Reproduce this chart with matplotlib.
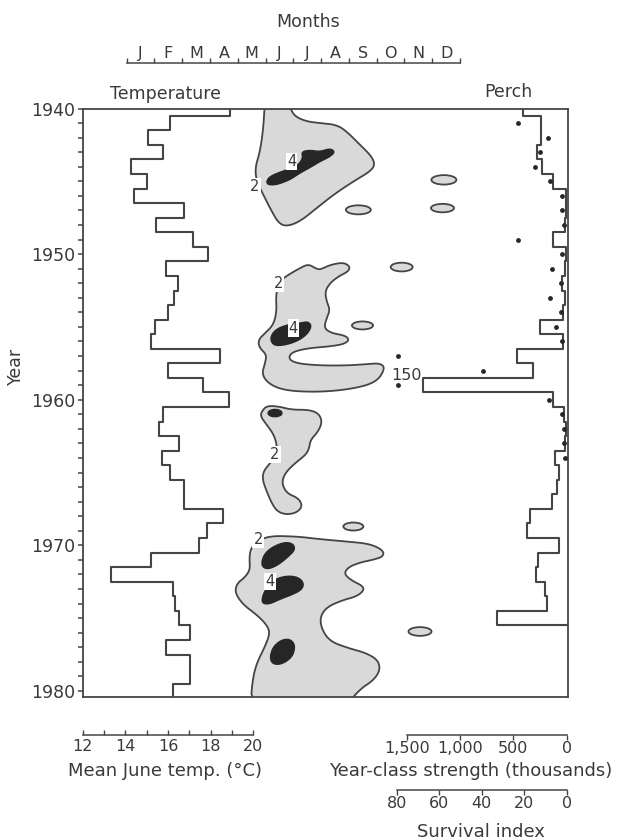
import numpy as np
import matplotlib.pyplot as plt
from matplotlib.patches import Polygon, Ellipse

plt.rcParams['font.family'] = ['DejaVu Sans']

# ---------------- data ----------------
years = np.arange(1940, 1981)
june_temp = [18.92, 16.10, 15.05, 15.78, 14.27, 15.00, 14.42, 16.77, 15.43, 17.16,
             17.87, 15.91, 16.49, 16.29, 16.02, 15.39, 15.19, 18.45, 16.02, 17.62,
             18.84, 15.78, 15.58, 16.52, 15.74, 16.10, 16.77, 16.77, 18.60, 17.82,
             17.46, 15.19, 13.31, 16.25, 16.33, 16.52, 17.04, 15.91, 17.04, 17.04,
             16.22]

perch_years = np.arange(1940, 1976)
year_class = [407, 241, 241, 281, 234, 125, 8, 5, 12, 131,
              10, 20, 40, 15, 35, 250, 31, 469, 313, 1344,
              131, 25, 10, 18, 110, 69, 88, 141, 344, 369,
              69, 266, 291, 203, 181, 650]

surv_years = np.arange(1941, 1965)
survival = [23.1, 8.6, 12.6, 14.9, 7.9, 2.1, 2.4, 1.1, 22.8,
            2.1, 7.1, 2.8, 7.9, 2.8, 5.2, 2.1, 79.2, 39.5, 150,
            8.3, 2.4, 1.1, 1.2, 0.8]

months = ['J', 'F', 'M', 'A', 'M', 'J', 'J', 'A', 'S', 'O', 'N', 'D']

# contour outlines, (month, year); month 0 = 1 January
blob_a = [(4.98, 1939.3), (4.92, 1941.35), (4.80, 1942.95), (4.62, 1944.10), (4.68, 1945.01),
          (4.92, 1945.93), (5.16, 1946.84), (5.46, 1947.87), (5.76, 1948.10), (6.24, 1947.76),
          (6.84, 1946.84), (7.44, 1945.93), (8.16, 1945.01), (8.76, 1944.33), (8.94, 1943.87),
          (8.82, 1943.29), (8.40, 1942.49), (7.92, 1941.58), (7.56, 1941.12), (6.96, 1941.00),
          (6.48, 1940.89), (6.06, 1940.55), (5.88, 1939.97), (5.85, 1939.3)]
blob_b = [(5.82, 1951.42), (6.24, 1950.96), (6.54, 1950.69), (6.78, 1950.96), (6.96, 1951.08),
          (7.32, 1950.74), (7.80, 1950.57), (8.04, 1950.85), (7.98, 1951.19), (7.62, 1951.54),
          (7.32, 1951.99), (7.14, 1952.57), (7.20, 1953.25), (7.32, 1953.83), (7.20, 1954.40),
          (7.10, 1955.08), (7.38, 1955.43), (7.86, 1955.59), (8.02, 1955.89), (7.82, 1956.18),
          (7.32, 1956.34), (6.54, 1956.46), (5.94, 1956.73), (5.82, 1957.19), (6.12, 1957.51),
          (6.96, 1957.65), (7.92, 1957.65), (8.64, 1957.56), (9.12, 1957.49), (9.31, 1957.83),
          (9.00, 1958.79), (8.16, 1959.25), (6.96, 1959.48), (5.76, 1959.39), (5.16, 1958.98),
          (4.86, 1958.29), (4.98, 1957.49), (5.04, 1956.92), (4.77, 1956.41), (4.74, 1955.89),
          (4.98, 1955.43), (5.28, 1954.86), (5.40, 1953.94), (5.37, 1952.80), (5.49, 1951.88)]
blob_c = [(4.86, 1960.81), (5.04, 1960.42), (5.46, 1960.46), (5.94, 1960.69), (6.54, 1960.69),
          (6.90, 1960.92), (7.04, 1961.49), (6.90, 1962.18), (6.62, 1962.75), (6.57, 1963.33),
          (6.45, 1963.78), (6.06, 1964.36), (5.70, 1965.04), (5.58, 1965.73), (5.76, 1966.42),
          (6.18, 1966.76), (6.33, 1967.29), (6.14, 1967.74), (5.76, 1967.90), (5.42, 1967.68),
          (5.22, 1967.10), (5.04, 1966.30), (4.89, 1965.50), (4.92, 1964.93), (5.16, 1964.36),
          (5.37, 1963.90), (5.42, 1963.21), (5.30, 1962.41), (5.04, 1961.72), (4.82, 1961.15)]
blob_d = [(4.56, 1969.97), (5.04, 1969.35), (6.12, 1969.39), (6.96, 1969.58), (7.92, 1969.74),
          (8.76, 1969.90), (9.24, 1970.35), (9.24, 1970.77), (8.88, 1970.99), (8.40, 1971.18),
          (7.98, 1971.50), (7.82, 1971.96), (8.10, 1972.42), (8.49, 1972.78), (8.54, 1973.10),
          (8.28, 1973.51), (7.74, 1973.79), (7.20, 1974.25), (6.96, 1974.93), (7.02, 1975.76),
          (7.32, 1976.60), (7.98, 1977.06), (8.64, 1977.41), (9.06, 1977.91), (9.12, 1978.60),
          (8.88, 1979.28), (8.40, 1979.88), (7.90, 1981.0), (4.46, 1981.0), (4.53, 1979.24),
          (4.68, 1978.09), (4.98, 1976.95), (5.16, 1976.03), (5.04, 1975.46), (4.68, 1974.77),
          (4.20, 1974.09), (3.90, 1973.28), (3.96, 1972.64), (4.26, 1972.19), (4.44, 1971.68),
          (4.42, 1970.99), (4.44, 1970.42)]

dark_a = [(5.03, 1945.01), (5.15, 1944.67), (5.57, 1944.33), (6.12, 1943.99), (6.35, 1943.42),
          (6.29, 1942.97), (6.59, 1942.86), (6.95, 1942.97), (7.32, 1942.74), (7.50, 1942.97),
          (7.32, 1943.31), (6.95, 1943.65), (6.66, 1943.99), (6.23, 1944.44), (5.87, 1944.90),
          (5.39, 1945.24), (5.09, 1945.24)]
dark_b = [(5.16, 1955.77), (5.34, 1955.20), (5.76, 1954.86), (6.24, 1954.74), (6.54, 1954.63),
          (6.66, 1954.97), (6.48, 1955.54), (6.12, 1956.00), (5.64, 1956.27), (5.28, 1956.27)]
dark_d1 = [(4.86, 1971.11), (4.98, 1970.54), (5.28, 1970.08), (5.70, 1969.78), (6.00, 1969.90),
           (6.06, 1970.31), (5.82, 1970.77), (5.46, 1971.34), (5.10, 1971.64), (4.89, 1971.50)]
dark_d2 = [(4.86, 1973.74), (4.98, 1973.06), (5.28, 1972.37), (5.76, 1972.09), (6.18, 1972.19),
           (6.38, 1972.60), (6.30, 1973.06), (5.94, 1973.40), (5.52, 1973.70), (5.16, 1974.02),
           (4.92, 1974.02)]
dark_d3 = [(5.16, 1977.63), (5.28, 1976.95), (5.58, 1976.49), (5.88, 1976.44), (6.06, 1976.83),
           (6.00, 1977.52), (5.76, 1977.98), (5.46, 1978.21), (5.22, 1978.09)]

# small closed "2" contours
ell_month = [11.42, 11.37, 8.34, 9.90, 8.49, 8.16, 10.56]
ell_year = [1944.90, 1946.84, 1946.96, 1950.89, 1954.90, 1968.71, 1975.92]
ell_w = [0.90, 0.83, 0.90, 0.79, 0.76, 0.72, 0.83]
ell_h = [0.65, 0.58, 0.62, 0.60, 0.55, 0.55, 0.60]
# small dark "4" patch in the 1960s
dark_c_month, dark_c_year, dark_c_w, dark_c_h = 5.34, 1960.92, 0.50, 0.50

lab_text = ['4', '2', '2', '4', '2', '2', '4']
lab_month = [5.94, 4.62, 5.46, 6.00, 5.34, 4.74, 5.16]
lab_year = [1943.64, 1945.36, 1952.00, 1955.08, 1963.78, 1969.62, 1972.49]

# ---------------- styling / layout ----------------
W, H = 627, 840
LINE = '#454545'
TXT = '#3a3a3a'
LIGHT = '#d9d9d9'
DARK = '#262626'
FS = 12.5

L, R, T, B = 82.7, 567.5, 108.5, 696.7
PX_PER_YEAR = 14.56
ylim = (1940 + (B - T) / PX_PER_YEAR, 1940)


def rect(x0, x1, y0, y1):
    return [x0 / W, 1 - y1 / H, (x1 - x0) / W, (y1 - y0) / H]


def xlim_from(v0, p0, v1, p1):
    k = (v1 - v0) / (p1 - p0)
    return v0 + (L - p0) * k, v0 + (R - p0) * k


def vsteps(yrs, vals):
    yy = np.repeat(np.asarray(yrs, float), 2) + np.tile([-0.5, 0.5], len(yrs))
    xx = np.repeat(np.asarray(vals, float), 2)
    return xx, yy


def chaikin(pts, n=3):
    p = np.asarray(pts, dtype=float)
    for _ in range(n):
        q = np.roll(p, -1, axis=0)
        out = np.empty((2 * len(p), 2))
        out[0::2] = 0.75 * p + 0.25 * q
        out[1::2] = 0.25 * p + 0.75 * q
        p = out
    return p


def overlay(xlim):
    ax = fig.add_axes(rect(L, R, T, B))
    ax.set_xlim(*xlim)
    ax.set_ylim(*ylim)
    ax.patch.set_visible(False)
    return ax


fig = plt.figure(figsize=(W / 100, H / 100), dpi=100)
fig.patch.set_facecolor('white')

# --- contour panel (months) ---
ax_m = overlay(xlim_from(0, 126.7, 12, 460))
ax_m.axis('off')
for outline in [blob_a, blob_b, blob_c, blob_d]:
    ax_m.add_patch(Polygon(chaikin(outline), closed=True, fc=LIGHT, ec=LINE, lw=1.3))
for mo, yr, w, h in zip(ell_month, ell_year, ell_w, ell_h):
    ax_m.add_patch(Ellipse((mo, yr), w, h, fc=LIGHT, ec=LINE, lw=1.3))
for outline in [dark_a, dark_b, dark_d1, dark_d2, dark_d3]:
    ax_m.add_patch(Polygon(chaikin(outline), closed=True, fc=DARK, ec=DARK, lw=1))
ax_m.add_patch(Ellipse((dark_c_month, dark_c_year), dark_c_w, dark_c_h, angle=-15, fc=DARK, ec=DARK))
for t, mo, yr in zip(lab_text, lab_month, lab_year):
    ax_m.text(mo, yr, t, ha='center', va='center', fontsize=10.5, color=TXT, zorder=6,
              bbox=dict(fc='white', ec='none', pad=0.8))

# --- temperature + frame ---
ax_t = overlay(xlim_from(12, 82.7, 20, 253.3))
tx, ty = vsteps(years, june_temp)
ax_t.plot(tx, ty, color=LINE, lw=1.5)
for s in ax_t.spines.values():
    s.set_color(LINE)
    s.set_linewidth(1.3)
ax_t.set_xticks([])
ax_t.set_yticks(np.arange(1940, 1981, 10))
ax_t.set_yticks(np.arange(1940, 1981, 1), minor=True)
ax_t.tick_params(axis='y', which='both', direction='out', length=3.5, width=1.1, color=LINE,
                 labelsize=FS, labelcolor=TXT, pad=2)

# --- perch year-class strength ---
ax_p = overlay(xlim_from(0, 566.7, 1500, 406.7))
ax_p.axis('off')
px, py = vsteps(perch_years, year_class)
px = np.append(px, 0)
py = np.append(py, perch_years[-1] + 0.5)
ax_p.plot(px, py, color=LINE, lw=1.5)

# --- survival index dots ---
ax_s = overlay(xlim_from(0, 566.7, 80, 396.7))
ax_s.axis('off')
surv = np.asarray(survival, float)
ax_s.scatter(np.minimum(surv, 79.2), surv_years, s=6, color=DARK, zorder=5, clip_on=False)
for v, yr in zip(surv, surv_years):
    if v > 80:
        ax_s.annotate(f'{v:g}', (79.2, yr), xytext=(6, 7), textcoords='offset points',
                      ha='center', va='center', fontsize=11.5, color=TXT)

# --- scales ---
def scale_axis(x0, x1, y, lim, ticks, labels, direction, pad, minor=None, size=11.5):
    ax = fig.add_axes(rect(x0, x1, y - 0.5, y))
    ax.set_xlim(*lim)
    ax.set_ylim(0, 1)
    for s in ['top', 'left', 'right']:
        ax.spines[s].set_visible(False)
    ax.spines['bottom'].set_color(LINE)
    ax.spines['bottom'].set_linewidth(1.1)
    ax.patch.set_visible(False)
    ax.set_yticks([])
    ax.set_xticks(ticks)
    ax.set_xticklabels(labels)
    if minor is not None:
        ax.set_xticks(minor, minor=True)
    ax.tick_params(axis='x', which='both', direction=direction, length=3.5, width=1, color=LINE,
                   labelsize=size, labelcolor=TXT, pad=pad)
    return ax


scale_axis(82.7, 253.3, 735, (12, 20), [12, 14, 16, 18, 20], ['12', '14', '16', '18', '20'],
           'in', 3, minor=[13, 15, 17, 19])
scale_axis(406.7, 566.7, 735, (1500, 0), [1500, 1000, 500, 0], ['1,500', '1,000', '500', '0'],
           'out', 1)
scale_axis(396.7, 566.7, 790, (80, 0), [80, 60, 40, 20, 0], ['80', '60', '40', '20', '0'],
           'out', 1)

ax_mon = scale_axis(126.7, 460, 63.3, (0, 12), np.arange(13), [''] * 13, 'in', 2)
for i, mname in enumerate(months):
    ax_mon.annotate(mname, (i + 0.5, 0), xycoords=('data', 'axes fraction'), xytext=(0, 2),
                    textcoords='offset points', ha='center', va='bottom', fontsize=11.5, color=TXT)

# --- titles and labels ---
fig.text(308 / W, 1 - 21.7 / H, 'Months', ha='center', va='center', fontsize=FS, color=TXT)
fig.text(165 / W, 1 - 94 / H, 'Temperature', ha='center', va='center', fontsize=FS, color=TXT)
fig.text(508 / W, 1 - 92 / H, 'Perch', ha='center', va='center', fontsize=FS, color=TXT)
fig.text(16 / W, 1 - 366 / H, 'Year', ha='center', va='center', rotation=90, fontsize=FS, color=TXT)
fig.text(165 / W, 1 - 771 / H, 'Mean June temp. (°C)', ha='center', va='center', fontsize=13, color=TXT)
fig.text(471 / W, 1 - 771 / H, 'Year-class strength (thousands)', ha='center', va='center',
         fontsize=13, color=TXT)
fig.text(481 / W, 1 - 832 / H, 'Survival index', ha='center', va='center', fontsize=13, color=TXT)

fig.savefig('out.png', dpi=100, facecolor='white')
